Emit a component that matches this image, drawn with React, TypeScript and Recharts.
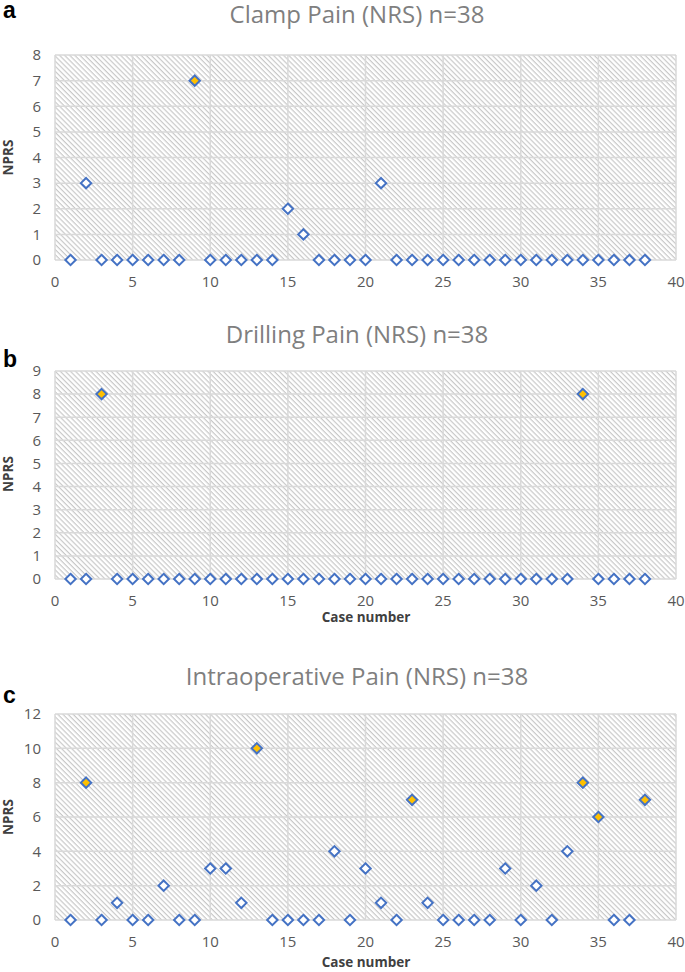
import { ScatterChart, Scatter, XAxis, YAxis, CartesianGrid } from 'recharts';

const caseNumbers = [
  1, 2, 3, 4, 5, 6, 7, 8, 9, 10, 11, 12, 13, 14, 15, 16, 17, 18, 19,
  20, 21, 22, 23, 24, 25, 26, 27, 28, 29, 30, 31, 32, 33, 34, 35, 36, 37, 38,
];

const clampPain = [
  0, 3, 0, 0, 0, 0, 0, 0, 7, 0, 0, 0, 0, 0, 2, 1, 0, 0, 0,
  0, 3, 0, 0, 0, 0, 0, 0, 0, 0, 0, 0, 0, 0, 0, 0, 0, 0, 0,
];
const clampHighlight = [9];

const drillingPain = [
  0, 0, 8, 0, 0, 0, 0, 0, 0, 0, 0, 0, 0, 0, 0, 0, 0, 0, 0,
  0, 0, 0, 0, 0, 0, 0, 0, 0, 0, 0, 0, 0, 0, 8, 0, 0, 0, 0,
];
const drillingHighlight = [3, 34];

const intraopPain = [
  0, 8, 0, 1, 0, 0, 2, 0, 0, 3, 3, 1, 10, 0, 0, 0, 0, 4, 0,
  3, 1, 0, 7, 1, 0, 0, 0, 0, 3, 0, 2, 0, 4, 8, 6, 0, 0, 7,
];
const intraopHighlight = [2, 13, 23, 34, 35, 38];

const xTicks = [0, 5, 10, 15, 20, 25, 30, 35, 40];
const clampTicks = [0, 1, 2, 3, 4, 5, 6, 7, 8];
const drillingTicks = [0, 1, 2, 3, 4, 5, 6, 7, 8, 9];
const intraopTicks = [0, 2, 4, 6, 8, 10, 12];

const BLUE = '#4472C4';
const ORANGE = '#FFC000';
const GRID = '#d9d9d9';
const TICK = { fontSize: 15, fill: '#595959', fontFamily: 'Open Sans' };

function rows(values: number[], highlight: number[]) {
  return caseNumbers.map((c, i) => ({ c, v: values[i], hl: highlight.includes(c) }));
}

function Diamond(props: any) {
  const { cx, cy, payload } = props;
  if (cx == null || cy == null) return null;
  const r = 5.2;
  const pts = `${cx},${cy - r} ${cx + r},${cy} ${cx},${cy + r} ${cx - r},${cy}`;
  return (
    <polygon
      points={pts}
      fill={payload.hl ? ORANGE : '#ffffff'}
      stroke={BLUE}
      strokeWidth={2}
    />
  );
}

interface PanelProps {
  top: number;
  height: number;
  marginTop: number;
  marginBottom: number;
  data: { c: number; v: number; hl: boolean }[];
  yTicks: number[];
}

function Panel({ top, height, marginTop, marginBottom, data, yTicks }: PanelProps) {
  return (
    <div style={{ position: 'absolute', left: 0, top }}>
      <ScatterChart
        width={685}
        height={height}
        margin={{ top: marginTop, right: 9, bottom: marginBottom, left: 15 }}
      >
        <CartesianGrid stroke={GRID} strokeWidth={1.5} fill="url(#hatch)" fillOpacity={1} />
        <XAxis
          type="number"
          dataKey="c"
          domain={[0, 40]}
          ticks={xTicks}
          interval={0}
          axisLine={false}
          tickLine={false}
          tickSize={0}
          tickMargin={16}
          height={30}
          tick={TICK}
        />
        <YAxis
          type="number"
          dataKey="v"
          domain={[0, yTicks[yTicks.length - 1]]}
          ticks={yTicks}
          interval={0}
          axisLine={false}
          tickLine={false}
          tickSize={0}
          tickMargin={14}
          width={40}
          tick={TICK}
        />
        <Scatter data={data} shape={<Diamond />} isAnimationActive={false} />
      </ScatterChart>
    </div>
  );
}

const titleStyle = { fontFamily: 'Open Sans', fontSize: 24, fill: '#7f7f7f' };
const letterStyle = { fontFamily: 'Liberation Sans', fontSize: 23, fontWeight: 700, fill: '#000' };
const axisLabelStyle = { fontFamily: 'Open Sans', fontSize: 13.5, fontWeight: 700, fill: '#404040' };

export default function App() {
  return (
    <div style={{ position: 'absolute', left: 0, top: 0, width: 685, height: 972, background: '#fff' }}>
      <Panel top={0} height={300} marginTop={55} marginBottom={10} data={rows(clampPain, clampHighlight)} yTicks={clampTicks} />
      <Panel top={300} height={320} marginTop={71} marginBottom={11} data={rows(drillingPain, drillingHighlight)} yTicks={drillingTicks} />
      <Panel top={620} height={352} marginTop={94} marginBottom={22} data={rows(intraopPain, intraopHighlight)} yTicks={intraopTicks} />
      <svg
        width={685}
        height={972}
        style={{ position: 'absolute', left: 0, top: 0, pointerEvents: 'none' }}
      >
        <defs>
          <pattern id="hatch" patternUnits="userSpaceOnUse" width={6} height={3.6} patternTransform="rotate(45)">
            <line x1={0} y1={0.6} x2={6} y2={0.6} stroke="#c8c8c8" strokeWidth={1.2} />
          </pattern>
        </defs>
        <text x={357} y={23} textAnchor="middle" style={titleStyle}>Clamp Pain (NRS) n=38</text>
        <text x={357} y={343} textAnchor="middle" style={titleStyle}>Drilling Pain (NRS) n=38</text>
        <text x={357} y={685} textAnchor="middle" style={titleStyle}>Intraoperative Pain (NRS) n=38</text>
        <text x={3} y={18} style={letterStyle}>a</text>
        <text x={3} y={367} style={letterStyle}>b</text>
        <text x={3} y={703} style={letterStyle}>c</text>
        <text transform="translate(13,157.5) rotate(-90)" textAnchor="middle" style={axisLabelStyle}>NPRS</text>
        <text transform="translate(13,474) rotate(-90)" textAnchor="middle" style={axisLabelStyle}>NPRS</text>
        <text transform="translate(13,817) rotate(-90)" textAnchor="middle" style={axisLabelStyle}>NPRS</text>
        <text x={366} y={622} textAnchor="middle" style={axisLabelStyle}>Case number</text>
        <text x={366} y={967} textAnchor="middle" style={axisLabelStyle}>Case number</text>
      </svg>
    </div>
  );
}
